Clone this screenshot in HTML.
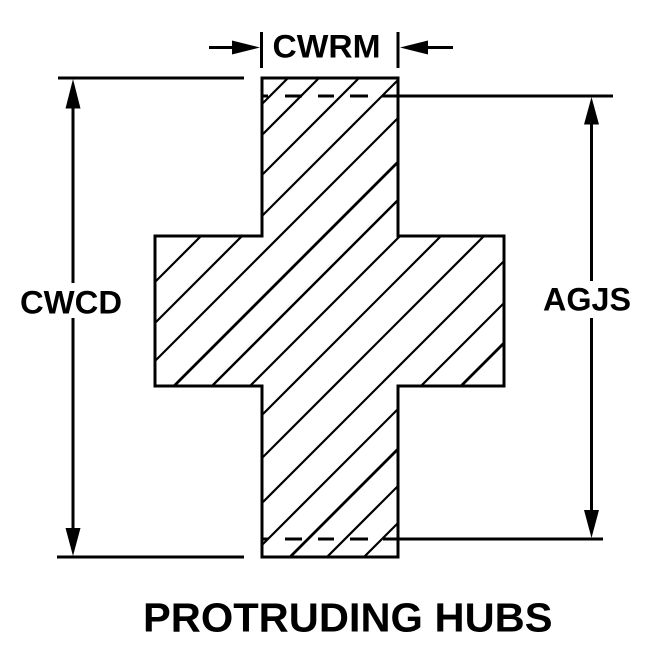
<!DOCTYPE html>
<html>
<head>
<meta charset="utf-8">
<style>
html,body{margin:0;padding:0;background:#fff;width:646px;height:656px;overflow:hidden}
svg{display:block}
text{font-family:"Liberation Sans",Arial,sans-serif;font-weight:bold;fill:#000}
</style>
</head>
<body>
<svg width="646" height="656" viewBox="0 0 646 656" xmlns="http://www.w3.org/2000/svg" shape-rendering="crispEdges">
<defs>
<clipPath id="c"><path d="M262 78H398V236H504V386H398V557H262V386H155V236H262Z"/></clipPath>
</defs>
<g clip-path="url(#c)" stroke="#000" stroke-width="2.2" shape-rendering="auto">
<line x1="306" y1="60" x2="246" y2="120"/>
<line x1="337" y1="60" x2="257" y2="140"/>
<line x1="377" y1="60" x2="100" y2="337"/>
<line x1="418" y1="60" x2="100" y2="378"/>
<line x1="456" y1="60" x2="100" y2="416"/>
<line x1="500" y1="60" x2="100" y2="460" stroke-width="2.8"/>
<line x1="538" y1="60" x2="100" y2="498" stroke-width="2.4"/>
<line x1="576" y1="60" x2="100" y2="536"/>
<line x1="617" y1="60" x2="100" y2="577"/>
<line x1="660" y1="60" x2="100" y2="620"/>
<line x1="705" y1="60" x2="100" y2="665"/>
<line x1="747" y1="60" x2="180" y2="627"/>
<line x1="787" y1="60" x2="220" y2="627" stroke-width="2.8"/>
<line x1="404" y1="480" x2="320" y2="564"/>
<line x1="404" y1="517" x2="357" y2="564"/>
</g>
<path d="M262 78H398V236H504V386H398V557H262V386H155V236H262Z" fill="none" stroke="#000" stroke-width="3"/>
<g stroke="#000" stroke-width="3" fill="none">
<path d="M58 78H244M57 557H244"/>
<path d="M262 96H268M285 96H302M318 96H334M350 96H368M382 96H613"/>
<path d="M262 539H268M285 539H302M318 539H334M350 539H368M383 539H603"/>
<path d="M73 100V283M73 318V535"/>
<path d="M591.500 118V281M591.500 318V515"/>
<path d="M209 47.500H238M423 47.500H453"/>
<path d="M261.500 32V68M398 32V68"/>
</g>
<g fill="#000" shape-rendering="auto">
<path d="M73 79L65.500 108.500H80.500Z"/>
<path d="M73 556L65.500 528H80.500Z"/>
<path d="M591.500 97L584 124.500H599Z"/>
<path d="M591.500 538L584 510H599Z"/>
<path d="M260 47.500L232 40.500V54.500Z"/>
<path d="M400 47.500L428 40.500V54.500Z"/>
</g>
<g shape-rendering="auto">
<text x="272.500" y="57.500" font-size="32" textLength="108" lengthAdjust="spacingAndGlyphs">CWRM</text>
<text x="20" y="313.500" font-size="32" textLength="102" lengthAdjust="spacingAndGlyphs">CWCD</text>
<text x="543" y="310.500" font-size="32" textLength="88" lengthAdjust="spacingAndGlyphs">AGJS</text>
<text x="143" y="631.500" font-size="40.500" textLength="409.500" lengthAdjust="spacingAndGlyphs">PROTRUDING HUBS</text>
</g>
</svg>
</body>
</html>
